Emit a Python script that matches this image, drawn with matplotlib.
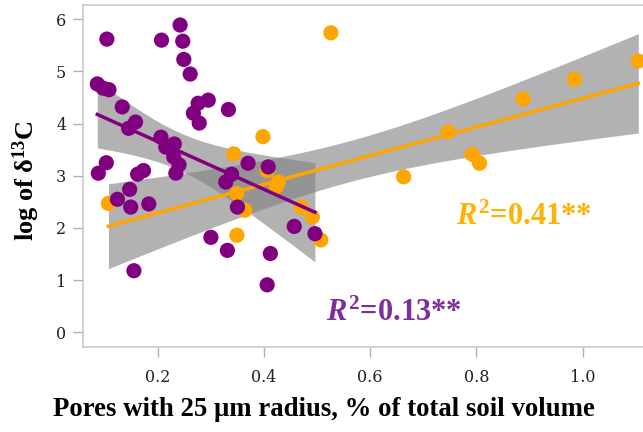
import numpy as np
import matplotlib
matplotlib.use("Agg")
import matplotlib.pyplot as plt

plt.rcParams["mathtext.fontset"] = "custom"
plt.rcParams["mathtext.rm"] = "Liberation Serif:bold"
plt.rcParams["mathtext.it"] = "Liberation Serif:italic:bold"
plt.rcParams["mathtext.bf"] = "Liberation Serif:bold"

# ---- data ----
purple_x = [0.086, 0.097, 0.108, 0.104, 0.088, 0.103, 0.133, 0.145, 0.158, 0.124,
            0.147, 0.149, 0.162, 0.173, 0.183, 0.155, 0.207, 0.242, 0.247, 0.249,
            0.261, 0.276, 0.295, 0.267, 0.278, 0.333, 0.206, 0.215, 0.231, 0.230,
            0.240, 0.234, 0.339, 0.328, 0.370, 0.408, 0.350, 0.300, 0.331, 0.412,
            0.406, 0.457, 0.496]
purple_y = [4.76, 4.68, 4.65, 5.62, 3.05, 3.25, 4.32, 3.91, 4.03, 2.55,
            2.74, 2.40, 3.03, 3.10, 2.46, 1.18, 5.60, 5.89, 5.58, 5.23,
            4.95, 4.39, 4.45, 4.20, 4.01, 4.27, 3.74, 3.55, 3.61, 3.36,
            3.21, 3.05, 3.03, 2.88, 3.24, 3.17, 2.40, 1.82, 1.57, 1.51,
            0.91, 2.03, 1.89]

orange_x = [0.107, 0.343, 0.398, 0.349, 0.364, 0.427, 0.423, 0.406, 0.349, 0.470,
            0.491, 0.507, 0.526, 0.663, 0.747, 0.792, 0.806, 0.888, 0.985, 1.105]
orange_y = [2.47, 3.42, 3.75, 2.66, 2.34, 2.88, 2.79, 3.10, 1.86, 2.40,
            2.21, 1.77, 5.74, 2.98, 3.84, 3.41, 3.24, 4.47, 4.85, 5.20]

x_ticks = [0.2, 0.4, 0.6, 0.8, 1.0]
y_ticks = [0, 1, 2, 3, 4, 5, 6]
r2_orange = "0.41"
r2_purple = "0.13"

PURPLE = "#800080"
ORANGE = "#FFA500"

fig = plt.figure(figsize=(6.43, 4.32), dpi=100)
ax = fig.add_axes([0.129, 0.197, 0.881, 0.791])
ax.set_xlim(0.059, 1.126)
ax.set_ylim(-0.28, 6.27)


def fit_band(xs, ys):
    xs = np.asarray(xs); ys = np.asarray(ys)
    n = len(xs)
    b, a = np.polyfit(xs, ys, 1)
    res = ys - (a + b * xs)
    s = np.sqrt(np.sum(res ** 2) / (n - 2))
    xbar = xs.mean()
    sxx = np.sum((xs - xbar) ** 2)
    grid = np.linspace(xs.min(), xs.max(), 100)
    yhat = a + b * grid
    t = 2.02
    se = t * s * np.sqrt(1.0 / n + (grid - xbar) ** 2 / sxx)
    return grid, yhat, se


for xs, ys, col in [(orange_x, orange_y, ORANGE), (purple_x, purple_y, PURPLE)]:
    g, yh, se = fit_band(xs, ys)
    ax.fill_between(g, yh - se, yh + se, color="#808080", alpha=0.6, lw=0, zorder=1)

for xs, ys, col in [(orange_x, orange_y, ORANGE), (purple_x, purple_y, PURPLE)]:
    ax.scatter(xs, ys, s=120, color=col, edgecolors="none", zorder=3)

for xs, ys, col in [(orange_x, orange_y, ORANGE), (purple_x, purple_y, PURPLE)]:
    g, yh, se = fit_band(xs, ys)
    ax.plot(g, yh, color=col, lw=2.5, zorder=4)

ax.set_xticks(x_ticks)
ax.set_xticklabels([f"{v:.1f}" for v in x_ticks])
ax.set_yticks(y_ticks)
ax.set_yticklabels([str(v) for v in y_ticks])

for sp in ["left", "bottom", "top"]:
    ax.spines[sp].set_color("#c8c8d8")
    ax.spines[sp].set_linewidth(1.2)
ax.spines["right"].set_visible(False)

ax.tick_params(axis="both", direction="out", length=7, width=1, color="#b0b0b0",
               labelsize=11.5, labelcolor="#222222")
ax.tick_params(axis="x", pad=9)
ax.tick_params(axis="y", pad=5)
for lab in ax.get_xticklabels() + ax.get_yticklabels():
    lab.set_family("DejaVu Serif")

ax.set_xlabel("Pores with 25 μm radius, % of total soil volume",
              family="Liberation Serif", weight="bold", fontsize=19.3)
ax.xaxis.set_label_coords(0.425, -0.147)
ax.set_ylabel(r"log of δ$^{\mathbf{13}}$C", family="Liberation Serif",
              weight="bold", fontsize=19)
ax.yaxis.set_label_coords(-0.072, 0.488)

ax.text(0.89, 2.21, r"$\mathit{R}^{2}$=" + r2_orange + "**", color="#FFB300",
        family="Liberation Serif", weight="bold", fontsize=22,
        ha="center", va="center", zorder=5)
ax.text(0.644, 0.37, r"$\mathit{R}^{2}$=" + r2_purple + "**", color="#7B2E9E",
        family="Liberation Serif", weight="bold", fontsize=22,
        ha="center", va="center", zorder=5)

fig.savefig("out.png", dpi=100)
